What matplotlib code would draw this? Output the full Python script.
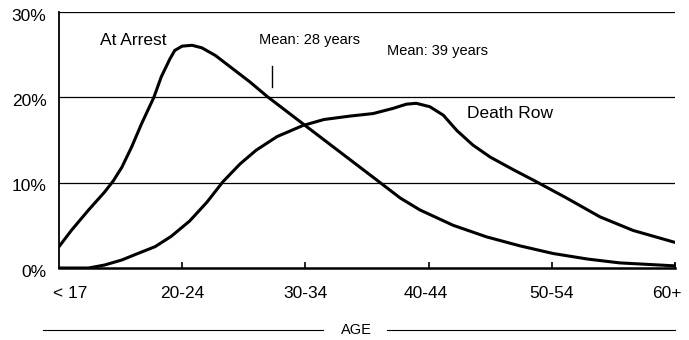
import matplotlib
matplotlib.use("Agg")
import matplotlib.pyplot as plt

plt.rcParams['font.family'] = ['Liberation Sans', 'DejaVu Sans']

# age groups along the bottom, evenly spaced
age_groups = ['< 17', '20-24', '30-34', '40-44', '50-54', '60+']
group_pos = [0, 1, 2, 3, 4, 5]

pct_ticks = [0, 10, 20, 30]
pct_labels = ['0%', '10%', '20%', '30%']

# share of people at each age, at arrest
arrest_pos = [0.00, 0.10, 0.24, 0.37, 0.44, 0.51, 0.59, 0.67, 0.77, 0.83,
              0.90, 0.94, 1.00, 1.08, 1.16, 1.27, 1.55, 1.69, 1.98, 2.28,
              2.58, 2.77, 2.93, 3.20, 3.47, 3.74, 4.01, 4.29, 4.55, 5.00]
arrest_pct = [2.5, 4.4, 6.8, 8.9, 10.2, 11.8, 14.2, 16.9, 20.0, 22.4,
              24.5, 25.5, 26.0, 26.1, 25.8, 24.9, 21.8, 20.1, 16.9, 13.6,
              10.3, 8.2, 6.8, 5.0, 3.65, 2.6, 1.7, 1.05, 0.6, 0.25]

# share of people at each age, on death row
death_pos = [0.00, 0.24, 0.37, 0.51, 0.64, 0.78, 0.91, 1.06, 1.20, 1.33,
             1.47, 1.60, 1.77, 1.98, 2.15, 2.36, 2.55, 2.71, 2.82, 2.90,
             3.01, 3.12, 3.23, 3.36, 3.50, 3.69, 3.85, 4.12, 4.39, 4.66, 5.00]
death_pct = [0.0, 0.0, 0.35, 0.94, 1.7, 2.5, 3.7, 5.5, 7.7, 10.1,
             12.2, 13.8, 15.4, 16.7, 17.4, 17.8, 18.1, 18.7, 19.2, 19.3,
             18.9, 17.9, 16.1, 14.4, 13.0, 11.5, 10.3, 8.2, 6.0, 4.4, 3.0]

mean_arrest_pos = 1.73

fig = plt.figure(figsize=(6.89, 3.40), dpi=100)
ax = fig.add_axes([59/689, 72/340, (675-59)/689, (268-12)/340])

for y in pct_ticks[1:]:
    ax.axhline(y, color='black', lw=0.9, zorder=1)

ax.plot(arrest_pos, arrest_pct, color='black', lw=2.2, solid_capstyle='round',
        solid_joinstyle='round', zorder=3)
ax.plot(death_pos, death_pct, color='black', lw=2.2, solid_capstyle='round',
        solid_joinstyle='round', zorder=3)

ax.set_xlim(0, 5)
ax.set_ylim(0, 30)
for s in ['top', 'right']:
    ax.spines[s].set_visible(False)
ax.spines['left'].set_linewidth(1.3)
ax.spines['bottom'].set_linewidth(1.8)

ax.set_xticks(group_pos[1:])
ax.set_xticklabels([])
ax.tick_params(axis='x', direction='in', length=4, width=1.2)
ax.set_yticks([])
ax.plot([5, 5], [0, 0.5], color='black', lw=1.2, clip_on=False)

# category labels under the axis
label_dx = [8, 0, 0, -2, 0, -6]
for p, lab, dx in zip(group_pos, age_groups, label_dx):
    ax.annotate(lab, xy=(p, 0), xycoords=('data', 'axes fraction'),
                xytext=(dx, -18), textcoords='offset points',
                ha='center', va='center', fontsize=12.5)

for y, lab in zip(pct_ticks, pct_labels):
    ax.annotate(lab, xy=(0, y), xycoords=('axes fraction', 'data'),
                xytext=(-9, -3), textcoords='offset points',
                ha='right', va='center', fontsize=12.5)

ax.text(0.60, 26.7, 'At Arrest', ha='center', va='center', fontsize=12.5)
ax.text(2.03, 26.7, 'Mean: 28 years', ha='center', va='center', fontsize=10.5)
ax.text(3.07, 25.4, 'Mean: 39 years', ha='center', va='center', fontsize=10.5)
ax.text(3.66, 18.1, 'Death Row', ha='center', va='center', fontsize=12.5)
ax.plot([mean_arrest_pos, mean_arrest_pos], [21.2, 23.7], color='black', lw=1.0)

# axis title with rules on either side
fig.text(356/689, 10/340, 'AGE', ha='center', va='center', fontsize=10.5)
fig.add_artist(plt.Line2D([43/689, 323/689], [10/340, 10/340], color='black', lw=0.8))
fig.add_artist(plt.Line2D([387/689, 675/689], [10/340, 10/340], color='black', lw=0.8))

fig.savefig('out.png', dpi=100)
